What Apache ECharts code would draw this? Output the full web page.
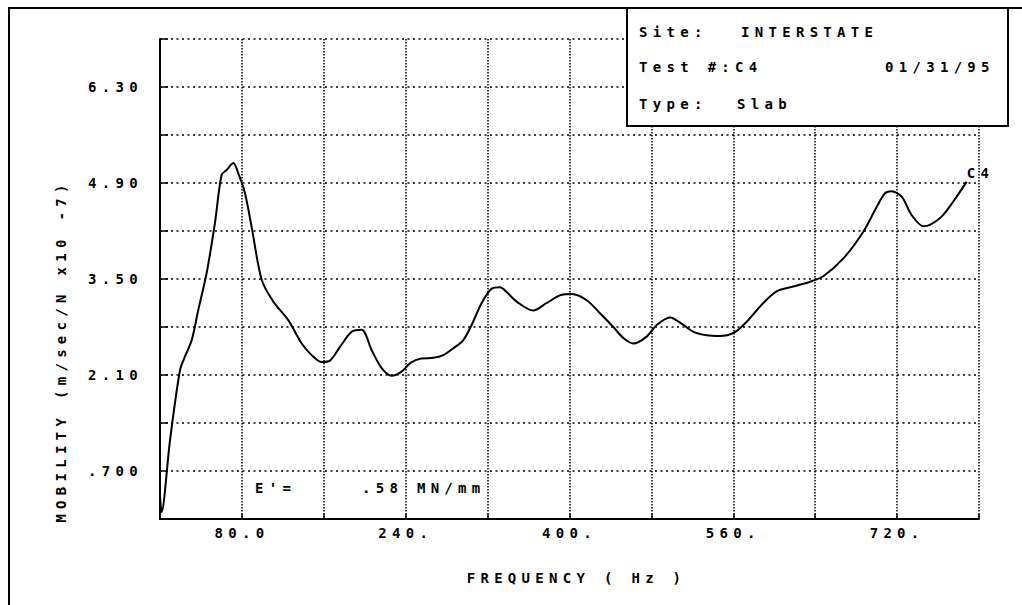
<!DOCTYPE html>
<html>
<head>
<meta charset="utf-8">
<script src="https://cdn.jsdelivr.net/npm/echarts@6/dist/echarts.min.js"></script>
<style>
  html, body { margin: 0; padding: 0; background: #fff; }
  #chart { width: 1022px; height: 605px; }
  #chart text { letter-spacing: 5.3px; white-space: pre; }
</style>
</head>
<body>
<div id="chart"></div>
<script>
// ---- data ----
const frequency = [0, 1.5, 9.8, 19.5, 24.4, 31, 37.4, 45.6, 53.7, 60.2, 65.1, 71.6, 76.5, 83, 89.5, 99.3,
  110.7, 125.3, 138.4, 148.2, 158, 166, 175.8, 187.2, 197, 206.8, 216.5, 226.3, 236, 245, 255, 267,
  276.7, 286.5, 296.3, 304.4, 314.2, 324, 332.1, 338.6, 348.4, 364.6, 377.7, 392.4, 402.2, 416.8,
  429.8, 442.8, 452.6, 462.4, 475.4, 485.2, 498.2, 511.2, 521, 534, 547, 560, 571.4, 589.3, 602.4,
  618.6, 634.9, 647.9, 667.5, 687, 700, 708.2, 714.7, 724.5, 734.3, 745.6, 752.1, 763.5, 774.9, 788];
const mobility = [0.35, 0.1, 1.15, 2.17, 2.37, 2.61, 3.05, 3.59, 4.32, 5.02, 5.09, 5.19, 5.04, 4.75, 4.26, 3.49,
  3.17, 2.90, 2.56, 2.39, 2.29, 2.31, 2.51, 2.73, 2.76, 2.46, 2.20, 2.09, 2.15, 2.28, 2.34, 2.35,
  2.39, 2.49, 2.61, 2.83, 3.15, 3.36, 3.38, 3.31, 3.17, 3.04, 3.15, 3.27, 3.28, 3.19,
  3.00, 2.80, 2.64, 2.56, 2.66, 2.83, 2.94, 2.83, 2.73, 2.68, 2.67, 2.71, 2.85, 3.15, 3.32,
  3.39, 3.46, 3.54, 3.80, 4.19, 4.55, 4.75, 4.78, 4.70, 4.43, 4.27, 4.29, 4.41, 4.63, 4.92];
const seriesName = 'C4';
const xTickLabels = ['', '80.0', '', '240.', '', '400.', '', '560.', '', '720.', ''];
const yTickLabels = ['', '.700', '', '2.10', '', '3.50', '', '4.90', '', '6.30', ''];
const xAxisTitle = 'FREQUENCY ( Hz )';
const yAxisTitle = 'MOBILITY (m/sec/N x10 -7)';
const infoSite = ['Site:', 'INTERSTATE'];
const infoTest = ['Test #:C4', '01/31/95'];
const infoType = ['Type:', 'Slab'];
const stiffnessNote = ["E'=", '.58 MN/mm'];

// ---- chart ----
const FONT = 'DejaVu Sans Mono';
const txt = { fontFamily: FONT, fontWeight: 'bold', fontSize: 14, color: '#000' };
const chart = echarts.init(document.getElementById('chart'), null, { renderer: 'svg' });

const data = frequency.map((f, i) => [f, mobility[i]]);

function gText(x, y, s) {
  return { type: 'text', left: x, top: y, style: { text: s, font: 'bold 14px "' + FONT + '"', fill: '#000' }, z: 20 };
}

chart.setOption({
  animation: false,
  backgroundColor: '#fff',
  grid: { left: 160, right: 43, top: 39, bottom: 86, containLabel: false },
  xAxis: {
    type: 'value', min: 0, max: 800, interval: 80,
    name: xAxisTitle, nameLocation: 'middle', nameGap: 52,
    nameTextStyle: Object.assign({}, txt, { padding: [0, 0, 0, 14] }),
    axisLine: { show: true, onZero: false, lineStyle: { color: '#000', width: 2 } },
    axisTick: { show: true, inside: true, length: 5, lineStyle: { color: '#000', width: 1.5 } },
    axisLabel: Object.assign({}, txt, {
      margin: 7, hideOverlap: false, showMinLabel: true, showMaxLabel: true,
      formatter: (v) => xTickLabels[Math.round(v / 80)] || ''
    }),
    splitLine: { show: true, lineStyle: { color: '#000', width: 1.5, type: [1.5, 1.5] } }
  },
  yAxis: {
    type: 'value', min: 0, max: 7, interval: 0.7,
    name: yAxisTitle, nameLocation: 'middle', nameGap: 92, nameRotate: 90,
    nameTextStyle: Object.assign({}, txt, { padding: [0, 144, 0, 0] }),
    axisLine: { show: true, onZero: false, lineStyle: { color: '#000', width: 2 } },
    axisTick: { show: true, inside: true, length: 8, lineStyle: { color: '#000', width: 1.5 } },
    axisLabel: Object.assign({}, txt, {
      margin: 17, hideOverlap: false, showMinLabel: true, showMaxLabel: true,
      formatter: (v) => yTickLabels[Math.round(v / 0.7)] || ''
    }),
    splitLine: { show: true, lineStyle: { color: '#000', width: 1.5, type: [2, 3.5] } }
  },
  series: [{
    name: seriesName, type: 'line', data: data,
    showSymbol: false, symbol: 'none', smooth: 0.3,
    lineStyle: { color: '#000', width: 2 },
    endLabel: Object.assign({}, txt, { show: true, formatter: seriesName, offset: [-8, -9] }),
    z: 5
  }],
  graphic: [
    // outer frame
    { type: 'polyline', shape: { points: [[9, 605], [9, 8], [1022, 8]] }, style: { stroke: '#000', lineWidth: 2, fill: null }, z: 10 },
    // info box
    { type: 'rect', shape: { x: 627, y: 8, width: 381, height: 118 }, style: { fill: '#fff', stroke: '#000', lineWidth: 2 }, z: 15 },
    gText(639, 25, infoSite[0]), gText(741, 25, infoSite[1]),
    gText(639, 60, infoTest[0]), gText(885, 60, infoTest[1]),
    gText(639, 97, infoType[0]), gText(737, 97, infoType[1]),
    // note inside plot
    gText(255, 481, stiffnessNote[0]), gText(362, 481, stiffnessNote[1])
  ]
});
</script>
</body>
</html>
